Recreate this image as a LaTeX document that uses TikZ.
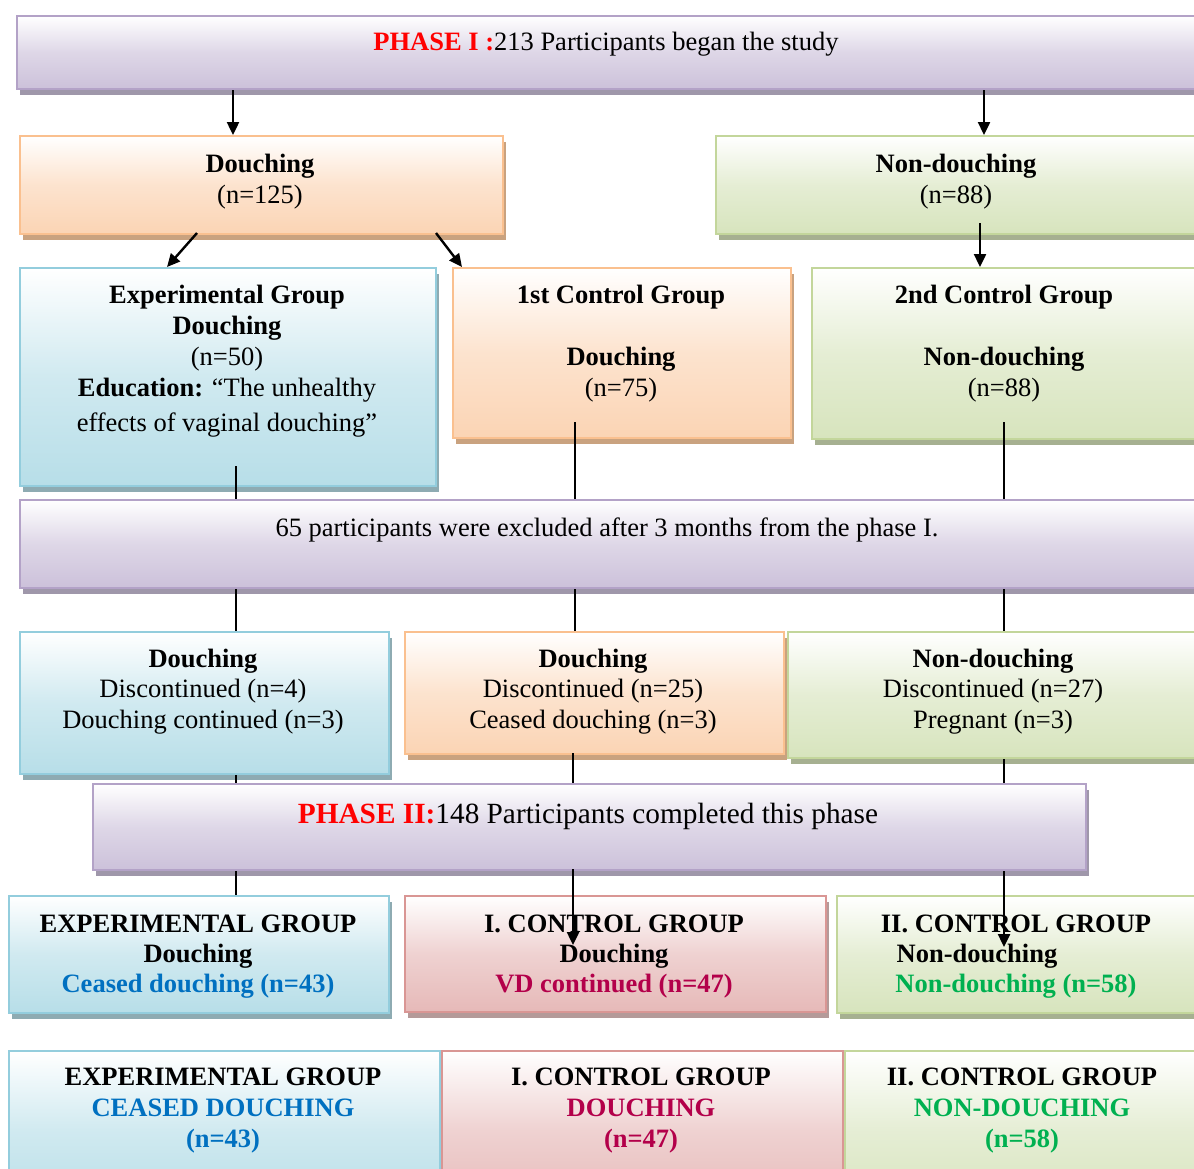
\documentclass[tikz,border=0pt]{standalone}
\usepackage{fontspec}
\setmainfont{Liberation Serif}
\usetikzlibrary{arrows.meta,shadows}
\definecolor{purpB}{HTML}{B3A2C7}\definecolor{purpF}{HTML}{CCC1DA}\definecolor{purpS}{HTML}{9F97AA}
\definecolor{orB}{HTML}{FAC08F}\definecolor{orF}{HTML}{FBD4B4}\definecolor{orS}{HTML}{C9A27F}
\definecolor{grB}{HTML}{C3D69B}\definecolor{grF}{HTML}{D7E4BD}\definecolor{grS}{HTML}{A6B091}
\definecolor{blB}{HTML}{93CDDD}\definecolor{blF}{HTML}{B7DEE8}\definecolor{blS}{HTML}{8EABB2}
\definecolor{rdB}{HTML}{D99694}\definecolor{rdF}{HTML}{E6B9B8}\definecolor{rdS}{HTML}{B49A99}
\definecolor{txBlue}{HTML}{0070C0}\definecolor{txRed}{HTML}{FF0000}
\definecolor{txCrim}{HTML}{B3004A}\definecolor{txGreen}{HTML}{00B050}
\tikzset{
  gbox/.style n args={3}{draw=#1, line width=2pt, top color=white, bottom color=#2,
     middle color=#2!65!white,
     drop shadow={shadow xshift=3pt, shadow yshift=-6pt, fill=#3, opacity=1},
     inner sep=0pt, anchor=north west},
  pbox/.style={gbox={purpB}{purpF}{purpS}},
  obox/.style={gbox={orB}{orF}{orS}},
  grbox/.style={gbox={grB}{grF}{grS}},
  bbox/.style={gbox={blB}{blF}{blS}},
  rbox/.style={gbox={rdB}{rdF}{rdS}},
  txt/.style={anchor=base, inner sep=0pt, font=\fontsize{26.5}{31}\selectfont},
  btxt/.style={txt, font=\fontsize{26.5}{31}\selectfont\bfseries},
  bigtxt/.style={txt, font=\fontsize{29.3}{34}\selectfont},
  conn/.style={line width=2.4pt, black},
  arr/.style={conn, -{Triangle[length=13pt,width=12pt]}},
}
\newcommand\mkbox[6]{\node[#1, minimum width=#4-#2, minimum height=#5-#3] (#6) at (#2,#3) {};}
\begin{document}
\begin{tikzpicture}[x=1pt,y=-1pt]
\useasboundingbox (0,0) rectangle (1194,1168);
\fill[white] (0,0) rectangle (1194,1168);
% boxes
\mkbox{pbox}{16}{15}{1196}{88}{top}
\mkbox{obox}{19}{135}{502}{233}{dch}
\mkbox{grbox}{715}{135}{1197}{233}{nd}
\mkbox{bbox}{19}{267}{435}{485}{exp}
\mkbox{obox}{452}{267}{790}{437}{cA}
\mkbox{grbox}{811}{267}{1197}{438}{cB}
\mkbox{pbox}{19}{499}{1195}{587}{excl}
\mkbox{bbox}{19}{631}{388}{773}{rA}
\mkbox{obox}{404}{631}{783}{753}{rB}
\mkbox{grbox}{787}{631}{1199}{757}{rC}
\mkbox{pbox}{92}{783}{1085}{869}{ph}
\mkbox{bbox}{8}{895}{388}{1012}{fA}
\mkbox{rbox}{404}{895}{825}{1011}{fB}
\mkbox{grbox}{836}{895}{1196}{1012}{fC}
\mkbox{bbox}{8}{1050}{439}{1210}{gA}
\mkbox{rbox}{441}{1050}{842}{1210}{gB}
\mkbox{grbox}{844}{1050}{1201}{1210}{gC}
% texts
\node[txt] (t0) at (606,50) {\textcolor{txRed}{\bfseries PHASE I :}213 Participants began the study};
\node[btxt] (t1a) at (260,172) {Douching};
\node[txt] (t1b) at (260,203) {(n=125)};
\node[btxt] (t2a) at (956,172) {Non-douching};
\node[txt] (t2b) at (956,203) {(n=88)};
\node[btxt] (t3a) at (227,303) {Experimental Group};
\node[btxt] (t3b) at (227,334) {Douching};
\node[txt] (t3c) at (227,365) {(n=50)};
\node[txt] (t3d) at (227,396) {\textbf{Education:} “The unhealthy};
\node[txt] (t3e) at (227,431) {effects of vaginal douching”};
\node[btxt] (t4a) at (621,303) {1st Control Group};
\node[btxt] (t4b) at (621,365) {Douching};
\node[txt] (t4c) at (621,396) {(n=75)};
\node[btxt] (t5a) at (1004,303) {2nd Control Group};
\node[btxt] (t5b) at (1004,365) {Non-douching};
\node[txt] (t5c) at (1004,396) {(n=88)};
\node[txt] (t6) at (607,536) {65 participants were excluded after 3 months from the phase I.};
\node[btxt] (t7a) at (203,667) {Douching};
\node[txt] (t7b) at (203,697) {Discontinued (n=4)};
\node[txt] (t7c) at (203,728) {Douching continued (n=3)};
\node[btxt] (t8a) at (593,667) {Douching};
\node[txt] (t8b) at (593,697) {Discontinued (n=25)};
\node[txt] (t8c) at (593,728) {Ceased douching (n=3)};
\node[btxt] (t9a) at (993,667) {Non-douching};
\node[txt] (t9b) at (993,697) {Discontinued (n=27)};
\node[txt] (t9c) at (993,728) {Pregnant (n=3)};
\node[bigtxt] (t10) at (588,823) {\textcolor{txRed}{\bfseries PHASE II:}148 Participants completed this phase};
\node[btxt] (t11a) at (198,932) {EXPERIMENTAL GROUP};
\node[btxt] (t11b) at (198,962) {Douching};
\node[btxt, text=txBlue] (t11c) at (198,992) {Ceased douching (n=43)};
\node[btxt] (t12a) at (614,932) {I. CONTROL GROUP};
\node[btxt] (t12b) at (614,962) {Douching};
\node[btxt, text=txCrim] (t12c) at (614,992) {VD continued (n=47)};
\node[btxt] (t13a) at (1016,932) {II. CONTROL GROUP};
\node[btxt] (t13b) at (977,962) {Non-douching};
\node[btxt, text=txGreen] (t13c) at (1016,992) {Non-douching (n=58)};
\node[btxt] (t14a) at (223,1085) {EXPERIMENTAL GROUP};
\node[btxt, text=txBlue] (t14b) at (223,1116) {CEASED DOUCHING};
\node[btxt, text=txBlue] (t14c) at (223,1147) {(n=43)};
\node[btxt] (t15a) at (641,1085) {I. CONTROL GROUP};
\node[btxt, text=txCrim] (t15b) at (641,1116) {DOUCHING};
\node[btxt, text=txCrim] (t15c) at (641,1147) {(n=47)};
\node[btxt] (t16a) at (1022,1085) {II. CONTROL GROUP};
\node[btxt, text=txGreen] (t16b) at (1022,1116) {NON-DOUCHING};
\node[btxt, text=txGreen] (t16c) at (1022,1147) {(n=58)};
% connector x positions
\coordinate (xa) at (233,0);
\coordinate (xb) at (984,0);
\coordinate (xc) at (980,0);
\coordinate (x1) at (236,0);
\coordinate (x2) at (575,0);
\coordinate (x3) at (1004,0);
\coordinate (s1) at (197,233);
\coordinate (e1) at (167,267);
\coordinate (s2) at (436,233);
\coordinate (e2) at (462,267);
\coordinate (i1) at (236,466);
\coordinate (i2) at (575,422);
\coordinate (i3) at (1004,422);
\coordinate (i4) at (980,223);
\coordinate (k1) at (573,753);
\coordinate (k1b) at (573,869);
\coordinate (k2) at (573,945);
\coordinate (k3) at (1004,947);
% connectors
\draw[arr] (xa|-top.south) -- (xa|-dch.north);
\draw[arr] (xb|-top.south) -- (xb|-nd.north);
\draw[arr] (i4) -- (xc|-cB.north);
\draw[arr] (s1) -- (e1);
\draw[arr] (s2) -- (e2);
\draw[conn] (i1) -- (x1|-excl.north);
\draw[conn] (i2) -- (x2|-excl.north);
\draw[conn] (i3) -- (x3|-excl.north);
\draw[conn] (x1|-excl.south) -- (x1|-rA.north);
\draw[conn] (x2|-excl.south) -- (x2|-rB.north);
\draw[conn] (x3|-excl.south) -- (x3|-rC.north);
\draw[conn] (x1|-rA.south) -- (x1|-ph.north);
\draw[conn] (k1) -- (k1|-ph.north);
\draw[conn] (x3|-rC.south) -- (x3|-ph.north);
\draw[conn] (x1|-ph.south) -- (x1|-fA.north);
\draw[arr] (k1b) -- (k2);
\draw[arr] (x3|-ph.south) -- (k3);
\end{tikzpicture}
\end{document}
